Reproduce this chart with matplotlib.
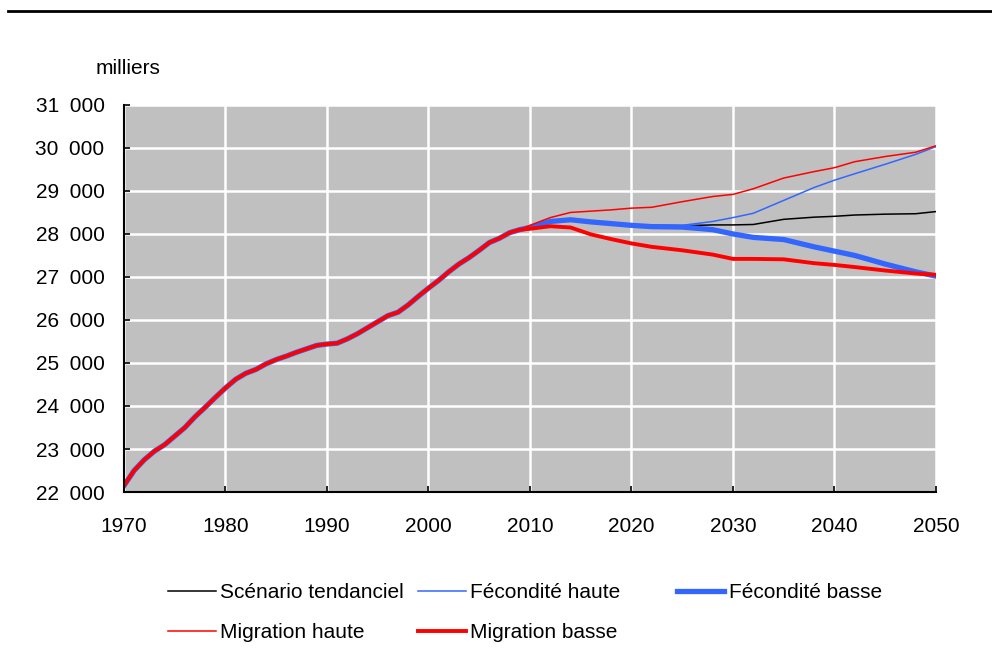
import numpy as np
import matplotlib
matplotlib.use('Agg')
import matplotlib.pyplot as plt
from matplotlib.lines import Line2D
from matplotlib.ticker import FuncFormatter, MultipleLocator

# historique commun 1970-2009 (milliers)
hist_years = list(range(1970, 2010))
hist_vals = [22150, 22500, 22750, 22950, 23100, 23300, 23500, 23750, 23970, 24200,
             24420, 24620, 24760, 24850, 24980, 25080, 25160, 25250, 25330, 25410,
             25440, 25460, 25560, 25680, 25820, 25960, 26100, 26180, 26350, 26550,
             26740, 26920, 27120, 27300, 27450, 27620, 27800, 27900, 28030, 28100]

# projections 2010-2050
proj_years = [2010, 2012, 2014, 2016, 2018, 2020, 2022, 2025, 2028, 2030,
              2032, 2035, 2038, 2040, 2042, 2045, 2048, 2050]
tendanciel = [28150, 28280, 28330, 28300, 28260, 28220, 28200, 28190, 28210, 28210,
              28220, 28340, 28390, 28410, 28440, 28460, 28470, 28520]
fec_haute = [28150, 28280, 28330, 28300, 28260, 28220, 28200, 28200, 28290, 28380,
             28480, 28780, 29080, 29250, 29400, 29620, 29850, 30030]
fec_basse = [28150, 28290, 28330, 28280, 28240, 28200, 28170, 28160, 28100, 28000,
             27920, 27870, 27700, 27600, 27500, 27300, 27120, 27020]
mig_haute = [28200, 28380, 28500, 28530, 28560, 28600, 28620, 28750, 28870, 28920,
             29050, 29300, 29450, 29540, 29680, 29800, 29900, 30050]
mig_basse = [28120, 28180, 28150, 27990, 27880, 27780, 27700, 27620, 27520, 27420,
             27420, 27410, 27320, 27280, 27230, 27150, 27080, 27050]

BLUE = '#3366FF'
RED = '#FF0000'


def full(proj):
    return np.array(hist_years + proj_years), np.array(hist_vals + proj)


plt.rcParams['font.family'] = ['Liberation Sans', 'DejaVu Sans']
plt.rcParams['font.size'] = 15

fig = plt.figure(figsize=(9.92, 6.64), dpi=100)
ax = fig.add_axes([0.125, 0.259, 0.8185, 0.583])
ax.set_facecolor('#C0C0C0')

x, y = full(tendanciel)
l_tend, = ax.plot(x, y, color='black', lw=1.1, label='Scénario tendanciel')
x, y = full(fec_haute)
l_fh, = ax.plot(x, y, color=BLUE, lw=1.1, label='Fécondité haute')
x, y = full(fec_basse)
l_fb, = ax.plot(x, y, color=BLUE, lw=3.8, label='Fécondité basse')
x, y = full(mig_haute)
l_mh, = ax.plot(x, y, color=RED, lw=1.1, label='Migration haute')
x, y = full(mig_basse)
l_mb, = ax.plot(x, y, color=RED, lw=2.8, label='Migration basse')

ax.set_xlim(1970, 2050)
ax.set_ylim(22000, 31000)
ax.xaxis.set_major_locator(MultipleLocator(10))
ax.yaxis.set_major_locator(MultipleLocator(1000))
ax.yaxis.set_major_formatter(FuncFormatter(lambda v, p: f"{int(v):,}".replace(',', '\u2002')))
ax.grid(True, color='white', lw=1.8)
ax.set_axisbelow(True)
for s in ['top', 'right']:
    ax.spines[s].set_visible(False)
for s in ['left', 'bottom']:
    ax.spines[s].set_linewidth(1.5)
ax.tick_params(axis='x', direction='in', length=4, width=1.2, pad=18)
ax.tick_params(axis='y', direction='in', length=4, width=1.2, pad=14)

fig.text(0.096, 0.897, 'milliers', fontsize=15, va='center', ha='left')

# trait horizontal en haut
fig.add_artist(Line2D([0.008, 1], [0.983, 0.983], color='black', lw=2.0,
                      transform=fig.transFigure))

leg_kw = dict(frameon=False, handlelength=2.3, handletextpad=0.2,
              labelspacing=1.0, borderpad=0, borderaxespad=0, loc='upper left')
leg1 = fig.legend([l_tend, l_mh], ['Scénario tendanciel', 'Migration haute'],
                  bbox_to_anchor=(0.169, 0.122), **leg_kw)
leg2 = fig.legend([l_fh, l_mb], ['Fécondité haute', 'Migration basse'],
                  bbox_to_anchor=(0.421, 0.122), **leg_kw)
leg3 = fig.legend([l_fb], ['Fécondité basse'],
                  bbox_to_anchor=(0.682, 0.122), **leg_kw)

fig.savefig('out.png', dpi=100)
